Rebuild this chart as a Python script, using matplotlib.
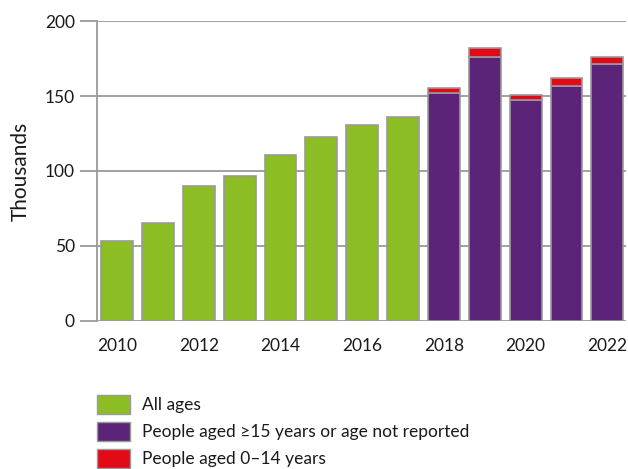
import matplotlib.pyplot as plt
from matplotlib.patches import Patch

plt.rcParams['font.family'] = ['Lato', 'DejaVu Sans']

years_all = [2010, 2011, 2012, 2013, 2014, 2015, 2016, 2017]
all_ages = [53.5, 65.5, 90, 96.5, 110.5, 122.5, 131, 136]

years_split = [2018, 2019, 2020, 2021, 2022]
aged_15_plus = [152, 176, 147.5, 156.5, 171.5]
aged_0_14 = [3.5, 6, 3.5, 5.5, 4.5]

green = '#8cbd24'
purple = '#5b2479'
red = '#e20a17'
edge = '#9a9a9a'

fig = plt.figure(figsize=(6.28, 4.69), dpi=100)
ax = fig.add_axes([0.1545, 0.3156, 0.842, 0.6396])

w = 0.78
ax.bar(years_all, all_ages, w, color=green, edgecolor=edge, linewidth=1.2, zorder=3)
ax.bar(years_split, aged_15_plus, w, color=purple, edgecolor=edge, linewidth=1.2, zorder=3)
ax.bar(years_split, aged_0_14, w, bottom=aged_15_plus, color=red, edgecolor=edge,
       linewidth=1.2, zorder=3)

ax.set_xlim(2009.51, 2022.45)
ax.set_ylim(0, 200)
ax.set_yticks([0, 50, 100, 150, 200])
ax.set_xticks([2010, 2012, 2014, 2016, 2018, 2020, 2022])
ax.grid(axis='y', color=edge, linewidth=1.3, zorder=0)
for s in ['top', 'right', 'bottom']:
    ax.spines[s].set_visible(False)
ax.spines['left'].set_color(edge)
ax.spines['left'].set_linewidth(1.3)
ax.tick_params(axis='y', length=12, width=1.3, color=edge, labelsize=12.5, pad=4,
               labelcolor='#1a1a1a')
ax.tick_params(axis='x', length=0, labelsize=12.5, pad=12, labelcolor='#1a1a1a')
ax.set_ylabel('Thousands', fontsize=15, labelpad=10, color='#1a1a1a')

handles = [Patch(facecolor=green, edgecolor=edge, label='All ages'),
           Patch(facecolor=purple, edgecolor=edge, label='People aged \u226515 years or age not reported'),
           Patch(facecolor=red, edgecolor=edge, label='People aged 0\u201314 years')]
fig.legend(handles=handles, loc='upper left', bbox_to_anchor=(0.143, 0.172),
           frameon=False, fontsize=12.5, handlelength=1.9, handleheight=1.27,
           labelspacing=0.48, handletextpad=0.7, borderaxespad=0,
           labelcolor='#1a1a1a')

fig.savefig('out.png', dpi=100)
